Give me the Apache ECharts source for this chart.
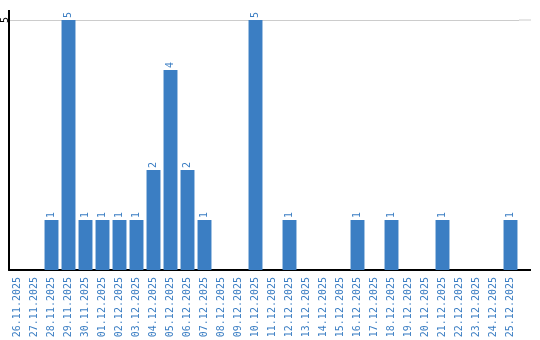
<!DOCTYPE html>
<html><head><meta charset="utf-8">
<script src="https://cdn.jsdelivr.net/npm/echarts@6/dist/echarts.min.js"></script>
<style>html,body{margin:0;padding:0;background:#fff}#c{width:540px;height:340px}</style>
</head><body><div id="c"></div>
<script>
const categories = ["26.11.2025","27.11.2025","28.11.2025","29.11.2025","30.11.2025","01.12.2025","02.12.2025","03.12.2025","04.12.2025","05.12.2025","06.12.2025","07.12.2025","08.12.2025","09.12.2025","10.12.2025","11.12.2025","12.12.2025","13.12.2025","14.12.2025","15.12.2025","16.12.2025","17.12.2025","18.12.2025","19.12.2025","20.12.2025","21.12.2025","22.12.2025","23.12.2025","24.12.2025","25.12.2025"];
const values = [0,0,1,5,1,1,1,1,2,4,2,1,0,0,5,0,1,0,0,0,1,0,1,0,0,1,0,0,0,1];
const yTicks = [0,5];
const blue = '#3b7ec3';
const font = 'DejaVu Sans Mono';
const chart = echarts.init(document.getElementById('c'), null, {renderer:'canvas'});
chart.setOption({
  animation:false,
  grid:{left:9, right:21, top:20, bottom:70, containLabel:false, outerBoundsMode:'none'},
  xAxis:{type:'category', data:categories,
    axisLine:{lineStyle:{color:'#000', width:2}}, axisTick:{show:false},
    axisLabel:{rotate:90, interval:0, color:blue, fontFamily:font, fontSize:10, margin:7}},
  yAxis:{type:'value', min:yTicks[0], max:yTicks[1], interval:5,
    axisLine:{show:true, lineStyle:{color:'#000', width:2}}, axisTick:{show:false},
    splitLine:{lineStyle:{color:'#cccccc'}},
    axisLabel:{rotate:90, color:'#000', fontFamily:font, fontSize:10, margin:4,
      align:'center', verticalAlign:'middle',
      formatter:v=> v===0?'':String(v)}},
  series:[{type:'bar', data:values.map(v=> v===0?null:v), barCategoryGap:'18%',
    itemStyle:{color:blue},
    label:{show:true, position:'top', rotate:90, align:'left', verticalAlign:'middle', distance:2,
      color:blue, fontFamily:font, fontSize:10}}]
});
const yBase = chart.convertToPixel({yAxisIndex:0}, yTicks[0]);
const yTop = chart.convertToPixel({yAxisIndex:0}, yTicks[1]);
const xStart = 9;
const xEnd = 540 - 21;
chart.setOption({graphic:[
  {type:'line', shape:{x1:xEnd, y1:yTop, x2:531, y2:yTop}, style:{stroke:'#cccccc', lineWidth:1}},
  {type:'line', shape:{x1:xEnd, y1:yBase, x2:531, y2:yBase}, style:{stroke:'#000', lineWidth:2}},
  {type:'line', shape:{x1:xStart, y1:yTop-10, x2:xStart, y2:yTop}, style:{stroke:'#000', lineWidth:2}}
]});
</script></body></html>
